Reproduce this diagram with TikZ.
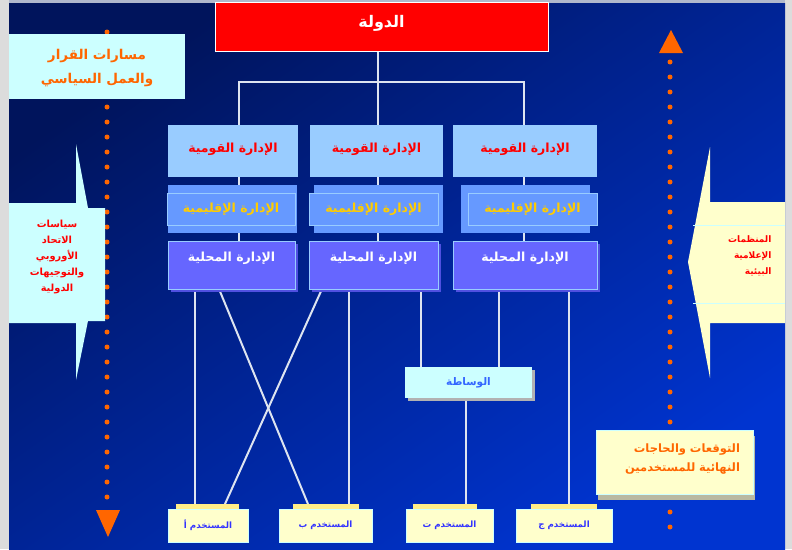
\documentclass[tikz,border=0pt]{standalone}
\usepackage{fontspec}
\usetikzlibrary{shadows}
\newfontfamily\arabicfont[Script=Arabic]{DejaVu Sans}
\TeXXeTstate=1
\newcommand{\ar}[1]{\beginR#1\endR}
\definecolor{navytop}{HTML}{00145C}
\definecolor{navybot}{HTML}{0034D0}
\definecolor{framegray}{HTML}{DCDCDC}
\definecolor{topgray}{HTML}{B0B8CC}
\definecolor{orangedot}{HTML}{FF6600}
\definecolor{natblue}{HTML}{99CCFF}
\definecolor{regblue}{HTML}{6699FF}
\definecolor{locblue}{HTML}{6666FF}
\definecolor{locshade}{HTML}{5050E0}
\definecolor{paleaqua}{HTML}{CCFFFF}
\definecolor{paleyellow}{HTML}{FFFFCC}
\definecolor{stripyellow}{HTML}{FFEE88}
\definecolor{wirewhite}{HTML}{DDE4F0}
\definecolor{regyellow}{HTML}{FFCC00}
\definecolor{usertext}{HTML}{3333FF}
\definecolor{wasblue}{HTML}{3366FF}
\pgfdeclarelayer{back}
\pgfdeclarelayer{wires}
\pgfsetlayers{back,wires,main}

\begin{document}
\begin{tikzpicture}[x=1pt, y=-1pt,
    box/.style={anchor=north west, inner sep=0pt, outer sep=0pt},
    natbox/.style={box, fill=natblue, text=red, minimum height=52pt, text depth=6pt,
        font=\arabicfont\bfseries\fontsize{12.5}{14}\selectfont},
    regbox/.style={box, fill=regblue, minimum width=129pt, minimum height=48pt},
    regframe/.style={box, fill=regblue, draw=natblue, line width=1pt, text=regyellow,
        minimum height=32pt, font=\arabicfont\bfseries\fontsize{12.5}{14}\selectfont},
    locbox/.style={box, fill=locblue, draw=natblue, line width=1pt, text=white,
        minimum height=48pt, text depth=16pt,
        general shadow={fill=locshade, shadow xshift=3pt, shadow yshift=-3pt},
        font=\arabicfont\bfseries\fontsize{12.5}{14}\selectfont},
    userbox/.style={box, fill=paleyellow, draw=paleaqua, line width=1pt, text=usertext,
        minimum height=33pt, font=\arabicfont\bfseries\fontsize{8.7}{10}\selectfont},
    wire/.style={draw=wirewhite, line width=2pt},
    dots/.style={draw=orangedot, line width=5pt, line cap=round, dash pattern=on 0pt off 15pt}
  ]
  \useasboundingbox (0,0) rectangle (792,549);
  \begin{pgfonlayer}{back}
    \fill[framegray] (0,0) rectangle (792,549);
    \fill[topgray] (9,0) rectangle (785,3);
    \shade[top color=navytop, bottom color=navybot, shading angle=35] (9,3) rectangle (785,549);
  \end{pgfonlayer}

  % orange dotted arrows
  \draw[dots] (107,32) -- (107,502);
  \fill[orangedot] (96,510) -- (120,510) -- (108,537) -- cycle;
  \draw[dots] (670,62) -- (670,530);
  \fill[orangedot] (659,53) -- (683,53) -- (671,30) -- cycle;

  % callouts
  \node[box, fill=paleaqua, minimum width=176pt, minimum height=65pt, text=orangedot, align=center,
      text depth=0pt, font=\arabicfont\bfseries\fontsize{13.5}{24}\selectfont] (paths) at (9,34)
      {\ar{مسارات القرار}\\\ar{والعمل السياسي}};
  \fill[paleaqua] (9,203) -- (76,203) -- (76,144) -- (88,208) -- (105,208) -- (105,321)
      -- (88,321) -- (76,380) -- (76,323) -- (9,323) -- cycle;
  \node[text=red, align=center, font=\arabicfont\bfseries\fontsize{9.8}{16}\selectfont] (eu) at (57,257)
      {\ar{سياسات}\\\ar{الاتحاد}\\\ar{الأوروبي}\\\ar{والتوجيهات}\\\ar{الدولية}};
  \fill[paleyellow] (710,147) -- (710,202) -- (785,202) -- (785,323) -- (710,323) -- (710,378)
      -- (688,262) -- cycle;
  \draw[paleaqua] (693,225) -- (785,225) (693,303) -- (785,303);
  \node[anchor=east, text=red, align=right, font=\arabicfont\bfseries\fontsize{9}{16}\selectfont] (media)
      at (775,256) {\ar{المنظمات}\\\ar{الإعلامية}\\\ar{البيئية}};
  \node[box, fill=paleyellow, draw=paleaqua, line width=1pt, minimum height=64pt, text width=131pt,
      inner xsep=13pt, align=right, text=orangedot, text depth=28pt,
      general shadow={fill=gray!55!paleyellow, shadow xshift=2pt, shadow yshift=-6pt},
      font=\arabicfont\bfseries\fontsize{11.5}{19}\selectfont] (needs) at (596,430)
      {\ar{التوقعات والحاجات}\\\ar{النهائية للمستخدمين}};

  % hierarchy
  \node[box, fill=red, draw=white, line width=1pt, minimum width=333pt, minimum height=49pt,
      text=white, text depth=10pt, font=\arabicfont\bfseries\fontsize{16}{18}\selectfont] (state) at (215,2)
      {\ar{الدولة}};
  \coordinate (bus) at (378,82);

  \node[natbox, minimum width=130pt] (nat1) at (168,125) {\ar{الإدارة القومية}};
  \node[natbox, minimum width=133pt] (nat2) at (310,125) {\ar{الإدارة القومية}};
  \node[natbox, minimum width=144pt] (nat3) at (453,125) {\ar{الإدارة القومية}};

  \node[regbox] (reg1) at (168,185) {};
  \node[regbox] (reg2) at (314,185) {};
  \node[regbox] (reg3) at (461,185) {};
  \node[regframe, minimum width=128pt] (regf1) at ([xshift=-1pt, yshift=-8pt]reg1.north west)
      {\ar{الإدارة الإقليمية}};
  \node[regframe, minimum width=129pt] (regf2) at ([xshift=-5pt, yshift=-8pt]reg2.north west)
      {\ar{الإدارة الإقليمية}};
  \node[regframe, minimum width=129pt] (regf3) at ([xshift=7pt, yshift=-8pt]reg3.north west)
      {\ar{الإدارة الإقليمية}};

  \node[locbox, minimum width=127pt] (loc1) at (168,241) {\ar{الإدارة المحلية}};
  \node[locbox, minimum width=129pt] (loc2) at (309,241) {\ar{الإدارة المحلية}};
  \node[locbox, minimum width=144pt] (loc3) at (453,241) {\ar{الإدارة المحلية}};

  \node[box, fill=paleaqua, minimum width=127pt, minimum height=31pt, text=wasblue,
      general shadow={fill=gray!60, shadow xshift=3pt, shadow yshift=-3pt},
      font=\arabicfont\bfseries\fontsize{10.5}{12}\selectfont] (wasata) at (405,367) {\ar{الوساطة}};

  \node[userbox, minimum width=80pt] (userA) at (168,509) {\ar{المستخدم أ}};
  \node[userbox, minimum width=93pt] (userB) at (279,509) {\ar{المستخدم ب}};
  \node[userbox, minimum width=87pt] (userT) at (406,509) {\ar{المستخدم ت}};
  \node[userbox, minimum width=96pt] (userJ) at (516,509) {\ar{المستخدم ج}};
  \foreach \u/\a/\b in {userA/8/9, userB/14/13, userT/7/16, userJ/15/15}
    \fill[stripyellow] ([xshift=\a pt]\u.north west) rectangle ([xshift=-\b pt, yshift=5pt]\u.north east);

  \begin{pgfonlayer}{wires}
    \draw[wire] (bus |- state.south) -- (bus);
    \draw[wire] ([xshift=7pt]loc1.north) -- ([xshift=7pt]loc1.north |- bus)
        -- ([xshift=-1pt]loc3.north |- bus) -- ([xshift=-1pt]loc3.north);
    \draw[wire] ([xshift=4pt]loc2.north) -- ([xshift=4pt]loc2.north |- bus);
    \draw[wire] ([xshift=27pt]loc1.south west) -- ([xshift=27pt, yshift=5pt]userA.north west);
    \draw[wire] ([xshift=51pt]loc1.south west) -- ([xshift=29pt, yshift=5pt]userB.north west);
    \draw[wire] ([xshift=13pt]loc2.south west) -- ([xshift=57pt, yshift=5pt]userA.north west);
    \draw[wire] ([xshift=40pt]loc2.south west) -- ([xshift=70pt, yshift=5pt]userB.north west);
    \draw[wire] ([xshift=112pt]loc2.south west) -- ([xshift=16pt]wasata.north west);
    \draw[wire] ([xshift=46pt]loc3.south west) -- ([xshift=94pt]wasata.north west);
    \draw[wire] ([xshift=61pt]wasata.south west) -- ([xshift=60pt, yshift=5pt]userT.north west);
    \draw[wire] ([xshift=116pt]loc3.south west) -- ([xshift=53pt, yshift=5pt]userJ.north west);
  \end{pgfonlayer}
\end{tikzpicture}
\end{document}
